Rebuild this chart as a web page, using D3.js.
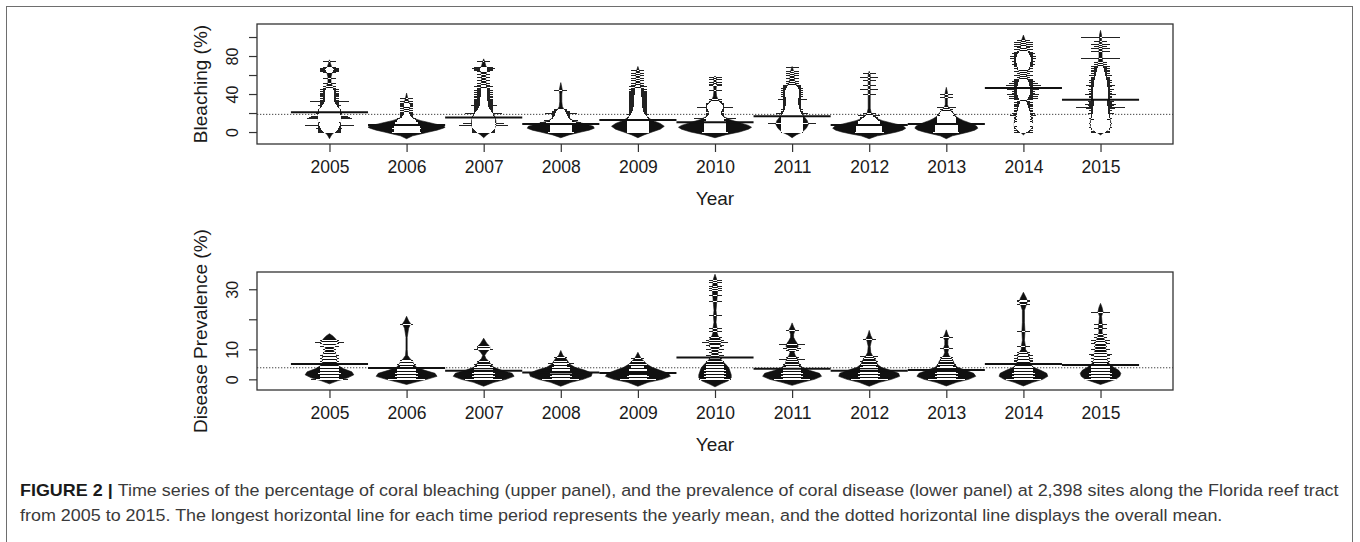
<!DOCTYPE html>
<html>
<head>
<meta charset="utf-8">
<script src="https://cdn.jsdelivr.net/npm/d3@7"></script>
<style>
  html, body { margin: 0; padding: 0; background: #fff; }
  svg { display: block; }
</style>
</head>
<body>
<svg id="fig" width="1360" height="542"></svg>
<script>
// ---------------------------------------------------------------
// Data: survey years, yearly means, overall means, axis ticks
// ---------------------------------------------------------------
const years = [2005, 2006, 2007, 2008, 2009, 2010, 2011, 2012, 2013, 2014, 2015];

const bleachMeans = [20.7, 7.4, 15.4, 8.4, 12.6, 10.2, 16.5, 7.4, 8.4, 46.3, 34.0];
const bleachOverall = 18.6;
const bleachTicks = [0, 20, 40, 60, 80, 100];
const bleachTickLabels = ["0", "", "40", "", "80", ""];

const diseaseMeans = [5.1, 3.75, 2.87, 2.3, 2.1, 7.3, 3.5, 2.9, 3.1, 5.1, 4.75];
const diseaseOverall = 3.85;
const diseaseTicks = [0, 10, 20, 30];
const diseaseTickLabels = ["0", "10", "", "30"];

// Bean outlines: [value, relative density] per year (bleaching %)
const bleachDensity = [
  [[-7,0],[-3,2],[0,5],[3,8],[7,10],[12,11],[18,11],[24,10],[28,7],[32,5],[38,4],[44,4],[48,3],[52,1.5],[58,1.5],[62,2.5],[66,4],[69,2],[72,1],[76,0]],
  [[-7,0],[-4,6],[-2,14],[0,22],[2,30],[4,36],[5,38],[6,37],[8,30],[10,22],[12,14],[14,8],[16,5],[19,3],[22,2],[26,3],[29,3],[32,2],[36,1],[41,0]],
  [[-6,0],[-3,3],[0,7],[4,11],[8,12],[12,12],[16,11],[20,9],[24,6],[28,4],[32,4],[38,3],[45,3],[50,2.5],[55,2],[60,2],[64,3],[67,3.5],[70,2],[74,1],[77,0]],
  [[-6,0],[-3,8],[0,20],[2,28],[4,33],[6,32],[8,26],[10,18],[12,12],[15,8],[18,6],[21,5],[24,3],[27,1.5],[32,1],[40,1],[44,1.5],[47,1],[52,0]],
  [[-6,0],[-3,6],[0,14],[3,22],[6,26],[9,22],[12,15],[15,10],[19,7],[23,5],[28,4],[33,4],[38,3.5],[44,3],[48,2.5],[52,2],[56,1.5],[60,2],[64,1.5],[69,0]],
  [[-6,0],[-3,10],[0,24],[3,33],[5,36],[7,33],[10,24],[13,15],[16,9],[19,6],[22,6],[25,8],[28,8],[31,6],[34,3],[38,1.5],[44,1],[50,1.5],[54,1],[57,1.5],[59,0]],
  [[-6,0],[-3,4],[0,10],[4,14],[8,16],[12,15],[16,12],[20,9],[25,7],[30,6],[35,6],[40,7],[44,7],[48,5],[52,3],[56,2],[60,2],[64,1.5],[69,0]],
  [[-7,0],[-4,8],[-2,18],[0,27],[2,33],[4,36],[6,34],[8,28],[10,20],[12,13],[14,8],[17,4],[20,2],[25,1],[35,1],[45,1],[55,1],[60,1],[64,0]],
  [[-7,0],[-4,6],[-2,14],[0,22],[2,28],[4,31],[6,30],[8,27],[10,22],[12,17],[14,13],[16,10],[18,8],[20,7],[22,5],[24,3.5],[26,2],[29,1],[34,1],[38,1.5],[42,1],[47,0]],
  [[-3,0],[0,3],[3,7],[6,9],[10,9],[14,8],[18,7],[22,6],[26,5],[30,4],[33,3],[36,4.5],[40,6],[44,6.5],[48,6],[52,5.5],[56,4],[60,3],[63,3.5],[67,5.5],[71,6.5],[75,7],[79,7],[83,5.5],[86,3.5],[89,2.5],[93,2.5],[96,2],[99,1],[102,0]],
  [[-3,0],[0,4],[3,8],[7,10],[11,10],[15,9],[19,8],[23,7],[27,7],[31,6.5],[35,7],[39,7],[43,7],[47,7],[51,6.5],[55,6],[59,5],[63,4],[67,3],[71,2.5],[75,2],[79,1.5],[84,1.5],[90,1.5],[96,1],[102,1],[107,0]]
];

// Site observations: [bleaching %, number of sites] per year
const bleachObs = [
  [[0,3],[1,3],[2,3],[3,3],[4,4],[5,3],[6,3],[7,14],[8,3],[9,2],[10,3],[11,2],[12,3],[13,3],[14,3],[15,12],[16,10],[17,8],[18,3],[19,3],[20,4],[21,3],[22,3],[23,3],[24,3],[25,2],[26,2],[27,2],[28,3],[29,2],[30,1],[31,2],[32,2],[33,9],[34,2],[35,1],[36,2],[37,1],[38,2],[39,2],[40,2],[41,2],[42,1],[43,2],[44,1],[45,2],[46,1],[48,1],[52,1],[57,1],[63,1],[64,2],[65,2],[66,2],[67,2],[68,1],[75,1]],
  [[0,5],[1,4],[2,4],[3,4],[4,5],[5,4],[6,4],[7,3],[8,4],[9,3],[10,3],[11,3],[12,2],[13,2],[14,2],[15,2],[16,1],[17,1],[18,1],[19,1],[20,1],[21,1],[23,1],[25,1],[27,1],[28,1],[29,1],[31,1],[33,1],[36,1]],
  [[0,3],[1,3],[2,3],[3,3],[4,3],[5,3],[6,3],[7,14],[8,3],[9,3],[10,10],[11,3],[12,3],[13,3],[14,3],[15,3],[16,2],[17,3],[18,2],[19,2],[20,8],[21,2],[22,2],[23,2],[24,2],[25,2],[26,2],[27,2],[28,4],[29,2],[30,2],[31,2],[32,2],[33,2],[34,2],[35,2],[36,1],[37,2],[38,2],[39,1],[40,2],[41,1],[42,2],[43,1],[44,2],[45,1],[46,1],[48,2],[50,1],[52,1],[55,1],[58,1],[61,1],[64,1],[65,2],[66,2],[67,3],[68,2],[75,1]],
  [[0,4],[1,3],[2,3],[3,3],[4,3],[5,3],[6,3],[7,3],[8,3],[9,3],[10,3],[11,10],[12,3],[13,7],[14,3],[15,2],[16,2],[17,2],[18,2],[19,2],[20,6],[21,2],[22,2],[23,1],[24,1],[44,1]],
  [[0,3],[1,3],[2,3],[3,3],[4,3],[5,3],[6,3],[7,3],[8,3],[9,3],[10,3],[11,3],[12,3],[13,10],[14,3],[15,3],[16,3],[17,2],[18,2],[19,3],[20,2],[21,2],[22,2],[23,2],[24,2],[25,2],[26,2],[27,2],[28,2],[29,2],[30,2],[31,2],[32,2],[33,2],[34,2],[35,2],[36,2],[37,2],[38,2],[39,2],[40,2],[41,2],[42,2],[43,2],[44,1],[45,2],[46,1],[48,2],[50,1],[52,1],[55,1],[57,1],[60,1],[62,1],[65,1]],
  [[0,4],[1,3],[2,3],[3,3],[4,3],[5,3],[6,3],[7,3],[8,3],[9,3],[10,3],[11,3],[12,3],[13,2],[14,2],[15,10],[16,2],[17,2],[18,2],[19,2],[20,2],[21,1],[22,2],[23,2],[24,2],[25,2],[26,8],[27,2],[28,2],[29,2],[30,2],[31,2],[32,1],[33,1],[35,1],[44,1],[50,1],[51,1],[53,1],[56,1],[58,1]],
  [[0,3],[1,3],[2,3],[3,3],[4,3],[5,3],[6,3],[7,3],[8,3],[9,3],[10,14],[11,3],[12,3],[13,3],[14,3],[15,3],[16,3],[17,3],[18,3],[19,3],[20,6],[21,3],[22,3],[23,2],[24,3],[25,2],[26,2],[27,2],[28,2],[29,2],[30,2],[31,2],[32,2],[33,2],[34,2],[35,5],[36,2],[37,2],[38,3],[39,2],[40,3],[41,2],[42,3],[43,2],[44,3],[45,2],[46,3],[47,2],[48,2],[49,1],[50,2],[52,1],[54,1],[57,1],[60,1],[62,1],[64,1],[68,1]],
  [[0,5],[1,4],[2,4],[3,4],[4,4],[5,4],[6,4],[7,3],[8,4],[9,3],[10,3],[11,3],[12,3],[13,2],[14,2],[15,2],[16,2],[17,1],[18,3],[20,1],[40,1],[45,2],[50,1],[55,1],[58,2],[62,1]],
  [[0,4],[1,3],[2,3],[3,3],[4,3],[5,3],[6,3],[7,3],[8,3],[9,2],[10,3],[11,2],[12,2],[13,2],[14,2],[15,2],[16,2],[17,2],[18,1],[19,2],[20,1],[21,1],[22,1],[24,1],[26,2],[37,1],[40,1]],
  [[0,2],[1,1],[2,2],[3,1],[4,2],[5,2],[6,1],[7,2],[8,2],[9,1],[10,2],[11,2],[12,1],[13,2],[14,1],[15,2],[16,2],[17,1],[18,4],[19,2],[20,3],[21,1],[22,2],[23,2],[24,1],[25,2],[26,1],[27,2],[28,2],[29,1],[30,2],[31,1],[32,2],[33,1],[35,2],[36,5],[37,2],[38,5],[39,2],[40,6],[41,3],[42,2],[43,3],[44,2],[45,6],[46,2],[47,3],[48,2],[49,3],[50,7],[51,2],[52,5],[53,2],[54,3],[55,2],[56,2],[58,1],[60,2],[62,1],[64,2],[66,1],[67,2],[68,1],[69,2],[70,2],[71,2],[72,3],[73,2],[74,2],[75,3],[76,2],[77,2],[78,4],[79,2],[80,4],[81,2],[82,2],[83,3],[84,2],[85,1],[87,2],[89,1],[91,2],[93,2],[95,2],[97,1]],
  [[0,2],[1,2],[2,1],[3,2],[4,2],[5,3],[6,2],[7,2],[8,2],[9,1],[10,3],[11,2],[12,2],[13,2],[14,1],[15,3],[16,2],[17,2],[18,2],[19,2],[20,4],[21,2],[22,2],[23,3],[24,2],[25,5],[26,14],[27,3],[28,4],[29,2],[30,6],[31,3],[32,3],[33,4],[34,2],[35,5],[36,2],[37,3],[38,3],[39,2],[40,6],[41,3],[42,2],[43,3],[44,2],[45,4],[46,2],[47,2],[48,3],[49,2],[50,5],[51,2],[52,2],[53,3],[54,2],[55,3],[56,2],[57,2],[58,2],[59,1],[60,3],[61,1],[62,2],[63,1],[64,2],[65,2],[66,1],[67,2],[68,1],[70,2],[72,1],[74,1],[78,9],[85,2],[88,2],[91,1],[93,2],[96,1],[100,9]]
];

// Bean outlines: [value, relative density] per year (disease prevalence %)
const diseaseDensity = [
  [[-1.5,0],[-0.5,8],[0.5,18],[1.5,24],[2.5,22],[3.5,14],[4.5,9],[5.5,7],[6.5,7],[7.5,7],[8.5,6],[9.5,4],[10.5,4],[11.5,6],[12.5,8],[13.5,6],[14.5,3],[15.2,0]],
  [[-1.7,0],[-1,8],[0,20],[1,30],[2,28],[3,18],[4,10],[5,7],[6,6],[7,3],[8,1],[10,0.6],[14,0.6],[17,2],[18.5,4],[19.5,2],[21,0]],
  [[-2.3,0],[-1,10],[0,22],[1,30],[2,28],[3,18],[4,10],[5,7],[6,5],[7,2],[8,1],[9,3],[10,6],[11,6],[12,3],[13.7,0]],
  [[-2.3,0],[-1,10],[0,22],[1,30],[2,31],[3,24],[4,14],[5,9],[6,7],[7,5],[8,2],[9.6,0]],
  [[-2.3,0],[-1,10],[0,24],[1,32],[2,30],[3,22],[4,14],[5,9],[6,6],[7,3],[8,1.5],[9,0]],
  [[-2.5,0],[-1.5,6],[-0.5,13],[0.5,16],[1.5,16],[2.5,15],[3.5,14],[4.5,12],[5.5,9],[6.5,6],[7.5,4],[8.5,3],[9.5,3],[10.5,4],[11.5,5],[12.5,6],[13.5,5],[14.5,3],[15.5,2],[17,2],[19,1],[21,1.5],[23,1],[25,1.5],[27,2],[29,2.5],[30.5,2.5],[32,2],[33.5,1.5],[35,0]],
  [[-2,0],[-1,10],[0,22],[1,29],[2,27],[3,17],[4,10],[5,7],[6,6],[7,5],[8,3],[9,2],[10,4],[11,6],[12,5],[13,3],[14,1.5],[15,1.5],[16.5,3],[17.5,1.5],[18.8,0]],
  [[-2.3,0],[-1,10],[0,22],[1,30],[2,29],[3,21],[4,12],[5,8],[6,7],[7,5],[8,3],[9,1.5],[11,1],[12.5,2],[13.6,3],[14.6,1.5],[16.3,0]],
  [[-2.2,0],[-1,10],[0,22],[1,29],[2,27],[3,19],[4,11],[5,8],[6,7],[7,5],[8,2.5],[9,1.5],[10.5,2.5],[11.5,1.5],[13,1.5],[14,3],[15,1.5],[16.5,0]],
  [[-2.2,0],[-1,9],[0,19],[1,24],[2,23],[3,17],[4,10],[5,7],[6,6],[7,5.5],[8,5],[9,4],[10,2],[11,2],[13,1],[16,1.5],[19,1],[23,1],[25,3],[26,4],[27,3],[28,1.5],[29,0]],
  [[-1.7,0],[-0.8,8],[0,15],[1,19],[2,20],[3,18],[4,13],[5,9],[6,7],[7,6],[8,6],[9,6],[10,5],[11,5],[12,5],[13,4],[14,3],[15,2],[16,1.5],[17.5,2],[19,1.5],[21,1],[22.5,2.5],[24,1.5],[25.3,0]]
];

// Site observations: [disease prevalence %, number of sites] per year
const diseaseObs = [
  [[0,8],[0.3,2],[0.6,2],[1,2],[1.3,2],[1.6,2],[2,3],[2.3,2],[2.6,2],[3,2],[3.3,2],[3.6,2],[4,2],[4.5,2],[5,2],[5.5,1],[6,2],[6.5,1],[7,2],[7.5,1],[8,2],[8.5,1],[9,1],[10,1],[11,2],[11.5,1],[12,2],[12.5,5],[13,2]],
  [[0,8],[0.3,2],[0.6,2],[1,3],[1.3,2],[1.6,2],[2,3],[2.3,2],[2.6,2],[3,2],[3.5,2],[4,2],[4.5,1],[5,2],[5.5,1],[6,1],[6.5,1],[18.5,1]],
  [[0,8],[0.3,2],[0.6,2],[1,3],[1.3,2],[1.6,2],[2,3],[2.3,2],[2.6,2],[3,2],[3.5,2],[4,2],[4.5,1],[5,2],[6,1],[10,2],[10.5,1],[11,1]],
  [[0,8],[0.3,2],[0.6,2],[1,3],[1.3,2],[1.6,2],[2,3],[2.3,2],[2.6,2],[3,2],[3.5,2],[4,2],[4.5,1],[5,1],[5.5,4],[6,1],[7.3,1]],
  [[0,8],[0.3,2],[0.6,2],[1,3],[1.3,2],[1.6,2],[2,3],[2.3,2],[2.6,2],[3,2],[3.5,2],[4,1],[4.5,1],[5,2],[6,1],[7,1]],
  [[0,6],[0.5,2],[1,3],[1.5,2],[2,3],[2.5,2],[3,3],[3.5,2],[4,2],[4.5,2],[5,2],[6,2],[7,1],[8,2],[9,1],[10,2],[11,1],[11.5,2],[12.5,4],[13,2],[14,1],[16,1],[17,1],[21.5,1],[26,1],[28,1],[29.7,1],[30.3,1],[31,1],[32.5,1],[33,1]],
  [[0,8],[0.3,2],[0.6,2],[1,3],[1.3,2],[1.6,2],[2,3],[2.3,2],[2.6,2],[3,2],[3.5,2],[4,2],[4.5,1],[5,2],[6,1],[6.7,4],[7.5,1],[9.7,1],[10.5,2],[11.7,4],[16.4,1]],
  [[0,8],[0.3,2],[0.6,2],[1,3],[1.3,2],[1.6,2],[2,3],[2.3,2],[2.6,2],[3,2],[3.5,2],[4,2],[4.5,1],[5,2],[6.2,2],[7,1],[7.7,2],[13.6,1]],
  [[0,8],[0.3,2],[0.6,2],[1,3],[1.3,2],[1.6,2],[2,3],[2.3,2],[2.6,2],[3,2],[3.5,2],[4,2],[4.5,1],[5,2],[6,1],[6.7,1],[7.3,1],[10.6,1],[14,1]],
  [[0,7],[0.3,2],[0.6,2],[1,3],[1.3,2],[1.6,2],[2,3],[2.3,2],[2.6,2],[3,2],[3.5,2],[4,2],[4.5,2],[5,2],[5.5,2],[6,2],[6.5,2],[7,2],[7.5,1],[8,2],[8.5,1],[9,1],[11,1],[16,1],[25,1],[26,1],[26.5,1]],
  [[0,6],[0.3,2],[0.6,2],[1,3],[1.3,2],[1.6,2],[2,3],[2.3,2],[2.6,2],[3,2],[3.5,2],[4,2],[4.5,2],[5,2],[5.5,1],[6,2],[6.5,1],[7,2],[7.5,1],[8,2],[8.5,3],[9,1],[10,2],[11,1],[12,2],[12.5,1],[13,2],[14,1],[15,1],[17,1],[18.5,1],[22.5,2]]
];

// ---------------------------------------------------------------
// Layout
// ---------------------------------------------------------------
const svg = d3.select("#fig");
const FONT = "'Liberation Sans', Arial, Helvetica, sans-serif";
const INK = "#111";

const plotLeft = 257, plotRight = 1173;
const xPos = d3.scaleLinear().domain([0.06, 11.94]).range([plotLeft, plotRight]);
const halfBand = xPos(1.5) - xPos(1);
const widthScale = d3.scaleLinear().domain([0, 38]).range([0, halfBand]);
const lineScale = d3.scaleSqrt().domain([0, 16]).range([0, 26]);

// outer figure frame
svg.append("rect")
  .attr("x", 6.5).attr("y", 6.5)
  .attr("width", 1346).attr("height", 580)
  .attr("fill", "none").attr("stroke", "#6e6e6e").attr("stroke-width", 1);

const panels = [
  { top: 24, bottom: 144, domain: [-12.6, 113.7], ticks: bleachTicks, labels: bleachTickLabels,
    title: "Bleaching (%)", dens: bleachDensity, obs: bleachObs, means: bleachMeans, overall: bleachOverall },
  { top: 272, bottom: 390, domain: [-3.55, 35.75], ticks: diseaseTicks, labels: diseaseTickLabels,
    title: "Disease Prevalence (%)", dens: diseaseDensity, obs: diseaseObs, means: diseaseMeans, overall: diseaseOverall }
];

// linear interpolation of the bean outline at a given value
function densityAt(profile, v) {
  if (v <= profile[0][0] || v >= profile[profile.length - 1][0]) return 0;
  for (let i = 0; i < profile.length - 1; i++) {
    const a = profile[i], b = profile[i + 1];
    if (v >= a[0] && v <= b[0]) {
      const t = (v - a[0]) / (b[0] - a[0]);
      return a[1] + t * (b[1] - a[1]);
    }
  }
  return 0;
}

function drawPanel(p) {
  const g = svg.append("g");
  const y = d3.scaleLinear().domain(p.domain).range([p.bottom, p.top]);

  // overall mean (dotted)
  g.append("line")
    .attr("x1", plotLeft).attr("x2", plotRight)
    .attr("y1", y(p.overall)).attr("y2", y(p.overall))
    .attr("stroke", "#444").attr("stroke-width", 1)
    .attr("stroke-dasharray", "1.3,1.7");

  years.forEach((yr, i) => {
    const cx = xPos(i + 1);
    const prof = p.dens[i];
    const bean = g.append("g");

    const area = d3.area()
      .y(d => y(d[0]))
      .x0(d => cx - widthScale(d[1]))
      .x1(d => cx + widthScale(d[1]));
    bean.append("path")
      .attr("d", area(prof))
      .attr("fill", INK).attr("stroke", INK).attr("stroke-width", 0.6);

    // one line per observed value: white inside the bean, black outside
    p.obs[i].forEach(([v, c]) => {
      const L = lineScale(c);
      const W = widthScale(densityAt(prof, v));
      const yy = Math.round(y(v)) + 0.5;
      const inner = Math.min(L, W);
      if (inner > 0) {
        bean.append("line")
          .attr("x1", cx - inner).attr("x2", cx + inner)
          .attr("y1", yy).attr("y2", yy)
          .attr("stroke", "#fff").attr("stroke-width", 1)
          .attr("shape-rendering", "crispEdges");
      }
      if (L > W) {
        [[cx - L, cx - W], [cx + W, cx + L]].forEach(([a, b]) => {
          bean.append("line")
            .attr("x1", a).attr("x2", b)
            .attr("y1", yy).attr("y2", yy)
            .attr("stroke", "#222").attr("stroke-width", 1)
            .attr("shape-rendering", "crispEdges");
        });
      }
    });

    // yearly mean
    bean.append("line")
      .attr("x1", cx - halfBand).attr("x2", cx + halfBand)
      .attr("y1", y(p.means[i])).attr("y2", y(p.means[i]))
      .attr("stroke", INK).attr("stroke-width", 2);
  });

  // plot frame
  g.append("rect")
    .attr("x", plotLeft).attr("y", p.top)
    .attr("width", plotRight - plotLeft).attr("height", p.bottom - p.top)
    .attr("fill", "none").attr("stroke", "#333").attr("stroke-width", 1.3);

  // x axis
  const xAxis = d3.axisBottom(xPos)
    .tickValues(d3.range(1, 12))
    .tickFormat(d => years[d - 1])
    .tickSize(8).tickSizeOuter(0);
  const gx = g.append("g").attr("transform", `translate(0,${p.bottom})`).call(xAxis);
  gx.select(".domain").remove();
  gx.selectAll(".tick line").attr("stroke", "#333").attr("stroke-width", 1.2);
  gx.selectAll(".tick text")
    .attr("y", 29).attr("dy", null)
    .attr("fill", "#1a1a1a")
    .style("font-family", FONT).style("font-size", "17.5px");

  // y axis (labels rotated, as in base graphics)
  const yAxis = d3.axisLeft(y)
    .tickValues(p.ticks)
    .tickFormat((d, k) => p.labels[k])
    .tickSize(8).tickSizeOuter(0);
  const gy = g.append("g").attr("transform", `translate(${plotLeft},0)`).call(yAxis);
  gy.select(".domain").remove();
  gy.selectAll(".tick line").attr("stroke", "#333").attr("stroke-width", 1.2);
  gy.selectAll(".tick text")
    .attr("transform", "rotate(-90)")
    .attr("x", 0).attr("y", -19).attr("dy", null)
    .attr("text-anchor", "middle")
    .attr("fill", "#1a1a1a")
    .style("font-family", FONT).style("font-size", "16px");

  // axis titles
  g.append("text")
    .attr("x", (plotLeft + plotRight) / 2).attr("y", p.bottom + 61)
    .attr("text-anchor", "middle")
    .attr("fill", "#1a1a1a")
    .style("font-family", FONT).style("font-size", "19px")
    .text("Year");
  g.append("text")
    .attr("transform", `translate(207,${(p.top + p.bottom) / 2}) rotate(-90)`)
    .attr("text-anchor", "middle")
    .attr("fill", "#1a1a1a")
    .style("font-family", FONT).style("font-size", "19px")
    .text(p.title);
}

panels.forEach(drawPanel);

// ---------------------------------------------------------------
// Caption (condensed by a common horizontal scale)
// ---------------------------------------------------------------
const captionLines = [
  { y: 496, bold: "FIGURE 2 | ",
    text: "Time series of the percentage of coral bleaching (upper panel), and the prevalence of coral disease (lower panel) at 2,398 sites along the Florida reef tract" },
  { y: 521, bold: "",
    text: "from 2005 to 2015. The longest horizontal line for each time period represents the yearly mean, and the dotted horizontal line displays the overall mean." }
];
const capLeft = 20, capRight = 1340;
const capGroups = captionLines.map(c => {
  const g = svg.append("g");
  const t = g.append("text")
    .attr("x", 0).attr("y", 0)
    .style("font-family", FONT).style("font-size", "16.5px");
  if (c.bold) {
    t.append("tspan").attr("font-weight", "bold").attr("fill", "#1a1a1a").text(c.bold);
  }
  t.append("tspan").attr("fill", "#3a3a3a").text(c.text);
  return { g, t, y: c.y };
});
const sx = (capRight - capLeft) / capGroups[0].t.node().getComputedTextLength();
capGroups.forEach(c => c.g.attr("transform", `translate(${capLeft},${c.y}) scale(${sx},1)`));
</script>
</body>
</html>
